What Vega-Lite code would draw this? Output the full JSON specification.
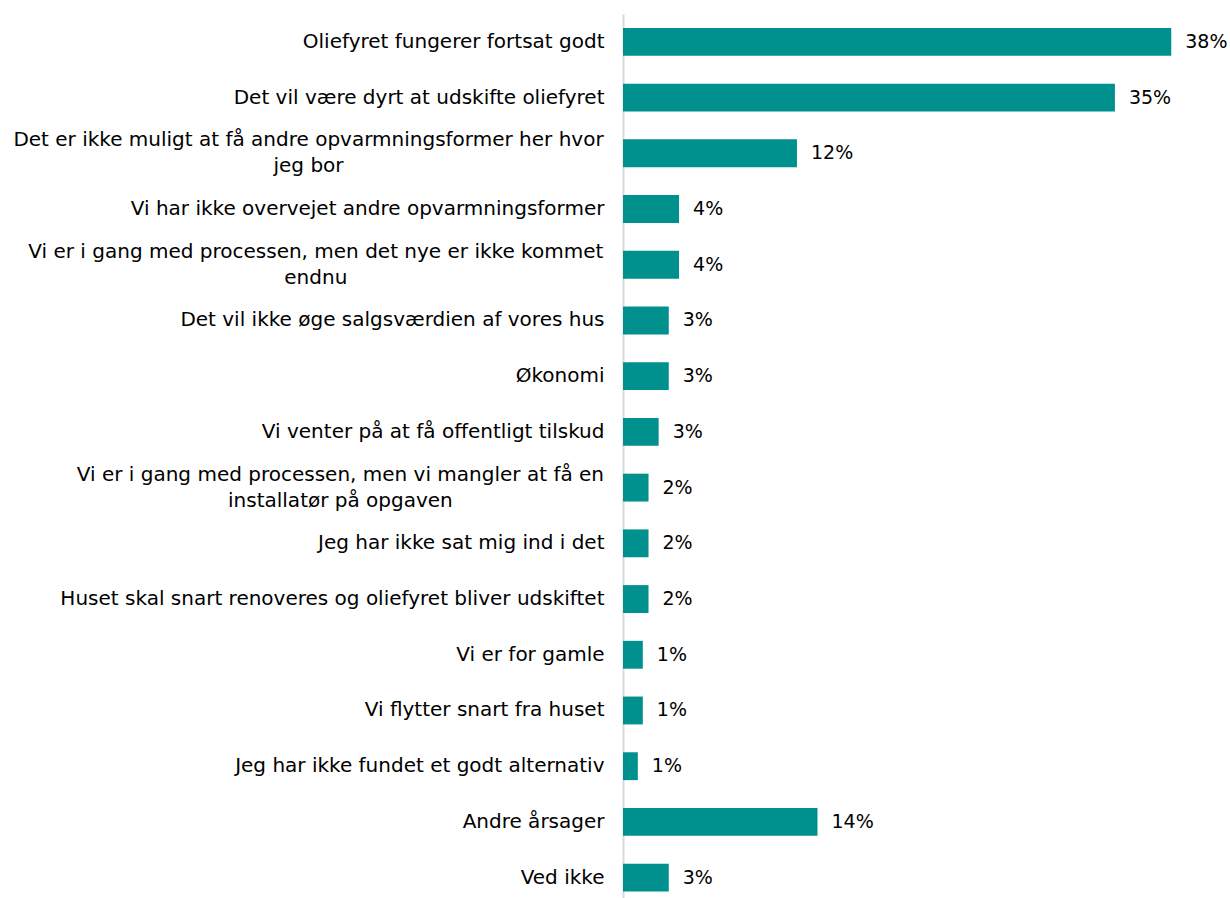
{
  "$schema": "https://vega.github.io/schema/vega-lite/v6.json",
  "width": 606,
  "height": 891.5,
  "autosize": {"type": "none"},
  "padding": {"left": 623, "top": 14, "right": 1, "bottom": 0},
  "background": "white",
  "config": {"view": {"stroke": null}, "font": "DejaVu Sans"},
  "data": {
    "values": [
      {"reason": "Oliefyret fungerer fortsat godt", "share": 38.45, "label": "38%"},
      {"reason": "Det vil være dyrt at udskifte oliefyret", "share": 34.5, "label": "35%"},
      {"reason": "Det er ikke muligt at få andre opvarmningsformer her hvor|jeg bor", "share": 12.2, "label": "12%"},
      {"reason": "Vi har ikke overvejet andre opvarmningsformer", "share": 3.93, "label": "4%"},
      {"reason": "Vi er i gang med processen, men det nye er ikke kommet|endnu", "share": 3.93, "label": "4%"},
      {"reason": "Det vil ikke øge salgsværdien af vores hus", "share": 3.21, "label": "3%"},
      {"reason": "Økonomi", "share": 3.21, "label": "3%"},
      {"reason": "Vi venter på at få offentligt tilskud", "share": 2.5, "label": "3%"},
      {"reason": "Vi er i gang med processen, men vi mangler at få en|installatør på opgaven", "share": 1.79, "label": "2%"},
      {"reason": "Jeg har ikke sat mig ind i det", "share": 1.79, "label": "2%"},
      {"reason": "Huset skal snart renoveres og oliefyret bliver udskiftet", "share": 1.79, "label": "2%"},
      {"reason": "Vi er for gamle", "share": 1.39, "label": "1%"},
      {"reason": "Vi flytter snart fra huset", "share": 1.39, "label": "1%"},
      {"reason": "Jeg har ikke fundet et godt alternativ", "share": 1.04, "label": "1%"},
      {"reason": "Andre årsager", "share": 13.64, "label": "14%"},
      {"reason": "Ved ikke", "share": 3.21, "label": "3%"}
    ]
  },
  "encoding": {
    "y": {
      "field": "reason",
      "type": "nominal",
      "sort": null,
      "scale": {"paddingInner": 0.5, "paddingOuter": 0.25},
      "axis": {
        "title": null,
        "domain": true,
        "domainColor": "#d9d9d9",
        "domainWidth": 2,
        "ticks": false,
        "grid": false,
        "labelFontSize": 20,
        "labelColor": "#000000",
        "labelLimit": 700,
        "labelLineHeight": 26,
        "labelAlign": {"condition": {"test": "indexof(datum.label, '|') >= 0", "value": "center"}, "value": "right"},
        "labelPadding": {
          "condition": [
            {"test": "indexof(datum.label, '|jeg bor') >= 0", "value": 315},
            {"test": "indexof(datum.label, '|endnu') >= 0", "value": 307.7},
            {"test": "indexof(datum.label, '|installat') >= 0", "value": 283.1}
          ],
          "value": 19
        },
        "labelOffset": {"condition": {"test": "indexof(datum.label, '|') >= 0", "value": -13}, "value": 0},
        "labelExpr": "split(datum.label, '|')"
      }
    }
  },
  "layer": [
    {
      "mark": {"type": "bar", "color": "#00918E"},
      "encoding": {
        "x": {"field": "share", "type": "quantitative", "scale": {"domain": [0, 42.5], "nice": false}, "axis": null}
      }
    },
    {
      "mark": {"type": "text", "align": "left", "baseline": "middle", "dx": 14, "fontSize": 19, "color": "#000000"},
      "encoding": {
        "x": {"field": "share", "type": "quantitative"},
        "text": {"field": "label"}
      }
    }
  ]
}
